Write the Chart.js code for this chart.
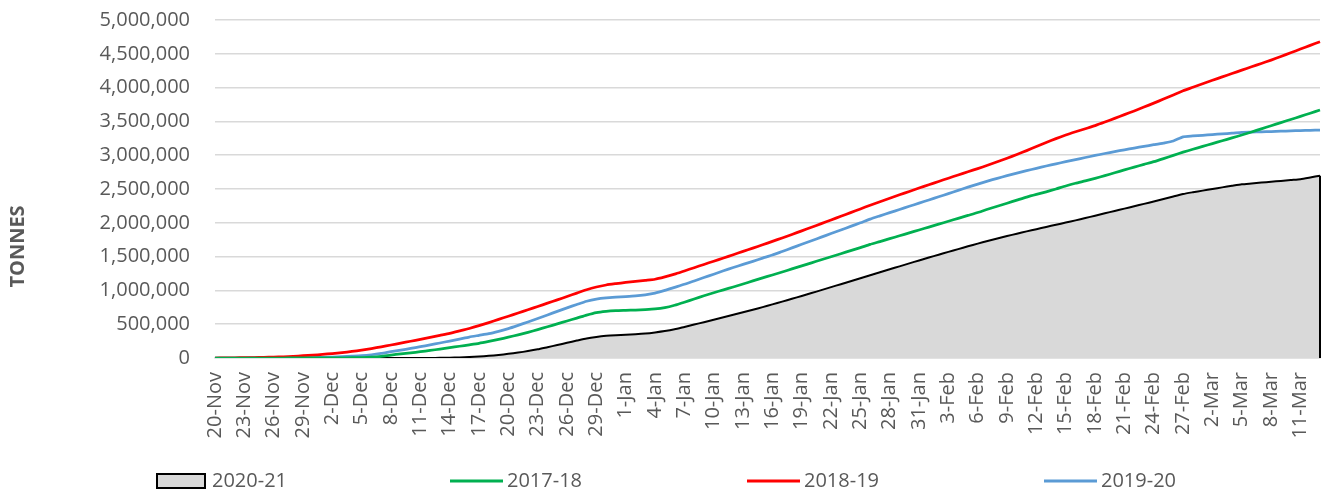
<!DOCTYPE html>
<html>
<head>
<meta charset="utf-8">
<script src="https://cdn.jsdelivr.net/npm/chart.js@4.4.1/dist/chart.umd.min.js"></script>
<style>
  body { margin: 0; background: #fff; }
</style>
</head>
<body>
<canvas id="tonnesChart" width="1326" height="493"></canvas>
<script>
// one label per day, 20-Nov .. 13-Mar
const monthRanges = [['Nov', 20, 30], ['Dec', 1, 31], ['Jan', 1, 31], ['Feb', 1, 28], ['Mar', 1, 13]];
const days = [];
monthRanges.forEach(([m, from, to]) => {
  for (let d = from; d <= to; d++) days.push(d + '-' + m);
});

// cumulative tonnes, in thousands
const s2021 = [
  0, 0, 0, 0, 0, 0, 0, 0, 0, 0,
  0, 0, 0, 0, 0, 0, 0, 0, 0, 0,
  0, 0, 0, 2, 4, 8, 14, 22, 32, 45,
  62, 80, 102, 128, 160, 192, 225, 258, 290, 312,
  328, 338, 345, 352, 362, 378, 398, 425, 460, 495,
  530, 566, 602, 639, 676, 714, 753, 793, 834, 876,
  918, 961, 1004, 1048, 1092, 1136, 1180, 1224, 1268, 1312,
  1356, 1400, 1443, 1486, 1528, 1570, 1611, 1652, 1692, 1731,
  1768, 1804, 1839, 1873, 1906, 1939, 1971, 2003, 2036, 2070,
  2105, 2140, 2175, 2210, 2245, 2280, 2315, 2352, 2390, 2426,
  2452, 2476, 2500, 2524, 2547, 2569, 2582, 2595, 2607, 2620,
  2633, 2645, 2670, 2697
];
const s1718 = [
  0, 0, 0, 0, 0, 0, 0, 0, 1, 1,
  2, 2, 3, 3, 4, 5, 12, 25, 44, 60,
  76, 93, 112, 132, 153, 174, 195, 217, 245, 275,
  308, 343, 380, 420, 462, 505, 548, 590, 635, 672,
  690, 700, 705, 710, 716, 725, 745, 780, 825, 873,
  920, 965, 1008, 1050, 1095, 1140, 1185, 1228, 1272, 1318,
  1363, 1408, 1453, 1498, 1543, 1588, 1633, 1680, 1722, 1765,
  1808, 1851, 1894, 1937, 1980, 2023, 2066, 2109, 2152, 2200,
  2245, 2290, 2335, 2380, 2420, 2458, 2500, 2545, 2585, 2620,
  2657, 2698, 2740, 2782, 2823, 2864, 2904, 2950, 2998, 3045,
  3088, 3130, 3172, 3214, 3256, 3298, 3344, 3390, 3436, 3482,
  3528, 3574, 3621, 3668
];
const s1819 = [
  0, 1, 3, 5, 7, 10, 13, 18, 25, 34,
  42, 53, 66, 80, 97, 117, 140, 165, 192, 220,
  248, 276, 305, 335, 365, 400, 436, 478, 524, 572,
  618, 665, 713, 762, 811, 860, 910, 960, 1010, 1050,
  1080, 1100, 1118, 1132, 1148, 1165, 1200, 1240, 1288, 1336,
  1384, 1432, 1480, 1528, 1577, 1626, 1675, 1725, 1776, 1828,
  1881, 1934, 1988, 2042, 2096, 2150, 2205, 2260, 2312, 2363,
  2414, 2464, 2514, 2563, 2612, 2660, 2708, 2755, 2802, 2851,
  2902, 2955, 3010, 3068, 3128, 3188, 3245, 3298, 3346, 3392,
  3438, 3490, 3545, 3600, 3655, 3712, 3770, 3830, 3892, 3953,
  4005, 4057, 4108, 4158, 4208, 4258, 4308, 4357, 4407, 4460,
  4515, 4570, 4625, 4678
];
const s1920 = [
  0, 0, 0, 0, 1, 1, 2, 2, 3, 5,
  7, 10, 14, 19, 26, 34, 48, 68, 93, 116,
  141, 167, 194, 222, 251, 280, 310, 335, 360, 395,
  435, 483, 533, 585, 637, 690, 742, 792, 840, 872,
  890, 900, 908, 918, 935, 960, 1000, 1045, 1090, 1140,
  1190, 1240, 1290, 1338, 1385, 1430, 1477, 1523, 1576, 1629,
  1682, 1735, 1788, 1841, 1894, 1947, 2000, 2055, 2103, 2150,
  2197, 2244, 2291, 2338, 2385, 2432, 2480, 2527, 2573, 2617,
  2658, 2697, 2735, 2771, 2806, 2840, 2872, 2904, 2935, 2966,
  2996, 3025, 3053, 3080, 3106, 3131, 3155, 3180, 3210, 3272,
  3285, 3295, 3305, 3315, 3325, 3338, 3342, 3346, 3350, 3355,
  3360, 3365, 3368, 3372
];
const toTonnes = v => v * 1000;

const textColor = '#595959';
Chart.defaults.font.family = "'Open Sans', sans-serif";
Chart.defaults.font.size = 20;
Chart.defaults.color = textColor;

// Excel closes the area with a vertical edge at the last point
const areaEdge = {
  id: 'areaEdge',
  afterDatasetsDraw(chart) {
    const meta = chart.getDatasetMeta(0);
    const last = meta.data[meta.data.length - 1];
    const y0 = chart.scales.y.getPixelForValue(0);
    const c = chart.ctx;
    c.save();
    c.strokeStyle = '#000000';
    c.lineWidth = 2;
    c.beginPath();
    c.moveTo(last.x, last.y);
    c.lineTo(last.x, y0);
    c.stroke();
    c.restore();
  }
};

// axis title centred on the whole chart height, like the original
const yTitle = {
  id: 'yTitle',
  afterDraw(chart) {
    const c = chart.ctx;
    c.save();
    c.translate(18, chart.height / 2);
    c.rotate(-Math.PI / 2);
    c.font = "bold 20px 'Open Sans', sans-serif";
    c.fillStyle = textColor;
    c.textAlign = 'center';
    c.textBaseline = 'middle';
    c.fillText('TONNES', 0, 0);
    c.restore();
  }
};

// wide-spaced legend along the bottom
const bottomLegend = {
  id: 'bottomLegend',
  afterDraw(chart) {
    const c = chart.ctx;
    const sets = chart.data.datasets;
    const step = 297;
    const y = chart.height - 12;
    const start = chart.width / 2 - 506;
    c.save();
    c.font = "20px 'Open Sans', sans-serif";
    c.textBaseline = 'middle';
    sets.forEach((ds, i) => {
      const x0 = start + i * step;
      let tx;
      if (ds.fill) {
        c.fillStyle = ds.backgroundColor;
        c.fillRect(x0, y - 7, 48, 14);
        c.strokeStyle = ds.borderColor;
        c.lineWidth = 2;
        c.strokeRect(x0, y - 7, 48, 14);
        tx = x0 + 55;
      } else {
        c.strokeStyle = ds.borderColor;
        c.lineWidth = 3;
        c.beginPath();
        c.moveTo(x0 - 4, y);
        c.lineTo(x0 + 49, y);
        c.stroke();
        tx = x0 + 53;
      }
      c.fillStyle = textColor;
      c.fillText(ds.label, tx, y);
    });
    c.restore();
  }
};

const ctx = document.getElementById('tonnesChart').getContext('2d');
const tonnesChart = new Chart(ctx, {
  type: 'line',
  data: {
    labels: days,
    datasets: [
      {
        label: '2020-21',
        data: s2021.map(toTonnes),
        borderColor: '#000000',
        backgroundColor: '#D9D9D9',
        borderWidth: 2,
        fill: 'origin',
        order: 1
      },
      {
        label: '2017-18',
        data: s1718.map(toTonnes),
        borderColor: '#00B050',
        borderWidth: 2.75,
        fill: false
      },
      {
        label: '2018-19',
        data: s1819.map(toTonnes),
        borderColor: '#FF0000',
        borderWidth: 2.75,
        fill: false
      },
      {
        label: '2019-20',
        data: s1920.map(toTonnes),
        borderColor: '#5B9BD5',
        borderWidth: 2.75,
        fill: false
      }
    ]
  },
  options: {
    responsive: false,
    animation: false,
    elements: {
      point: { radius: 0 },
      line: { tension: 0.2, borderJoinStyle: 'round' }
    },
    layout: { padding: { left: 0, right: 6, top: 20, bottom: 40 } },
    plugins: {
      legend: { display: false },
      tooltip: { enabled: false }
    },
    scales: {
      x: {
        offset: false,
        grid: { display: false, drawTicks: false },
        border: { color: '#D9D9D9', width: 1.5 },
        ticks: {
          autoSkip: false,
          minRotation: 90,
          maxRotation: 90,
          padding: 14,
          callback: (v, i) => (i % 3 === 0 ? days[i] : '')
        },
        afterFit: s => {
          s.height = 95;
          s.paddingLeft = 0;
          s.paddingRight = 0;
        }
      },
      y: {
        min: 0,
        max: 5000000,
        ticks: {
          stepSize: 500000,
          padding: 25,
          callback: v => v.toLocaleString('en-US')
        },
        grid: { color: '#D9D9D9', lineWidth: 1.5, drawTicks: false },
        border: { display: false },
        afterFit: s => {
          s.width = 215;
          s.paddingTop = 0;
          s.paddingBottom = 0;
        }
      }
    }
  },
  plugins: [areaEdge, yTitle, bottomLegend]
});
</script>
</body>
</html>
